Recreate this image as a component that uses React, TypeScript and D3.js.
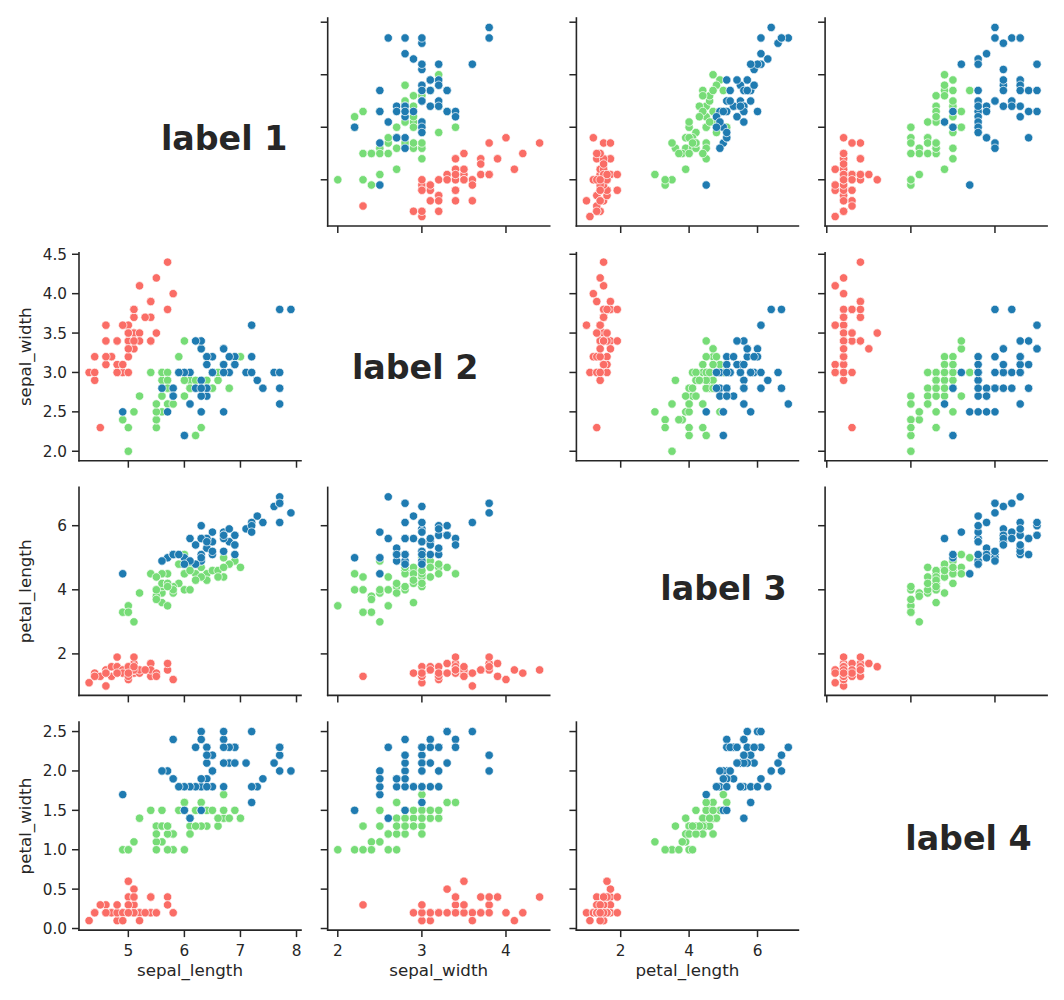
import React from "react";
import * as d3 from "d3";

const VARIABLES = ["sepal_length", "sepal_width", "petal_length", "petal_width"];
const SPECIES = ["setosa", "versicolor", "virginica"];
const SPECIES_COUNTS = [50, 50, 50];
const COLORS = ["#fa6d66", "#77dc77", "#1f7bb1"];

const sepalLength = [
  5.1, 4.9, 4.7, 4.6, 5.0, 5.4, 4.6, 5.0, 4.4, 4.9, 5.4, 4.8, 4.8, 4.3, 5.8, 5.7, 5.4, 5.1, 5.7, 5.1,
  5.4, 5.1, 4.6, 5.1, 4.8, 5.0, 5.0, 5.2, 5.2, 4.7, 4.8, 5.4, 5.2, 5.5, 4.9, 5.0, 5.5, 4.9, 4.4, 5.1,
  5.0, 4.5, 4.4, 5.0, 5.1, 4.8, 5.1, 4.6, 5.3, 5.0,
  7.0, 6.4, 6.9, 5.5, 6.5, 5.7, 6.3, 4.9, 6.6, 5.2, 5.0, 5.9, 6.0, 6.1, 5.6, 6.7, 5.6, 5.8, 6.2, 5.6,
  5.9, 6.1, 6.3, 6.1, 6.4, 6.6, 6.8, 6.7, 6.0, 5.7, 5.5, 5.5, 5.8, 6.0, 5.4, 6.0, 6.7, 6.3, 5.6, 5.5,
  5.5, 6.1, 5.8, 5.0, 5.6, 5.7, 5.7, 6.2, 5.1, 5.7,
  6.3, 5.8, 7.1, 6.3, 6.5, 7.6, 4.9, 7.3, 6.7, 7.2, 6.5, 6.4, 6.8, 5.7, 5.8, 6.4, 6.5, 7.7, 7.7, 6.0,
  6.9, 5.6, 7.7, 6.3, 6.7, 7.2, 6.2, 6.1, 6.4, 7.2, 7.4, 7.9, 6.4, 6.3, 6.1, 7.7, 6.3, 6.4, 6.0, 6.9,
  6.7, 6.9, 5.8, 6.8, 6.7, 6.7, 6.3, 6.5, 6.2, 5.9,
];
const sepalWidth = [
  3.5, 3.0, 3.2, 3.1, 3.6, 3.9, 3.4, 3.4, 2.9, 3.1, 3.7, 3.4, 3.0, 3.0, 4.0, 4.4, 3.9, 3.5, 3.8, 3.8,
  3.4, 3.7, 3.6, 3.3, 3.4, 3.0, 3.4, 3.5, 3.4, 3.2, 3.1, 3.4, 4.1, 4.2, 3.1, 3.2, 3.5, 3.6, 3.0, 3.4,
  3.5, 2.3, 3.2, 3.5, 3.8, 3.0, 3.8, 3.2, 3.7, 3.3,
  3.2, 3.2, 3.1, 2.3, 2.8, 2.8, 3.3, 2.4, 2.9, 2.7, 2.0, 3.0, 2.2, 2.9, 2.9, 3.1, 3.0, 2.7, 2.2, 2.5,
  3.2, 2.8, 2.5, 2.8, 2.9, 3.0, 2.8, 3.0, 2.9, 2.6, 2.4, 2.4, 2.7, 2.7, 3.0, 3.4, 3.1, 2.3, 3.0, 2.5,
  2.6, 3.0, 2.6, 2.3, 2.7, 3.0, 2.9, 2.9, 2.5, 2.8,
  3.3, 2.7, 3.0, 2.9, 3.0, 3.0, 2.5, 2.9, 2.5, 3.6, 3.2, 2.7, 3.0, 2.5, 2.8, 3.2, 3.0, 3.8, 2.6, 2.2,
  3.2, 2.8, 2.8, 2.7, 3.3, 3.2, 2.8, 3.0, 2.8, 3.0, 2.8, 3.8, 2.8, 2.8, 2.6, 3.0, 3.4, 3.1, 3.0, 3.1,
  3.1, 3.1, 2.7, 3.2, 3.3, 3.0, 2.5, 3.0, 3.4, 3.0,
];
const petalLength = [
  1.4, 1.4, 1.3, 1.5, 1.4, 1.7, 1.4, 1.5, 1.4, 1.5, 1.5, 1.6, 1.4, 1.1, 1.2, 1.5, 1.3, 1.4, 1.7, 1.5,
  1.7, 1.5, 1.0, 1.7, 1.9, 1.6, 1.6, 1.5, 1.4, 1.6, 1.6, 1.5, 1.5, 1.4, 1.5, 1.2, 1.3, 1.4, 1.3, 1.5,
  1.3, 1.3, 1.3, 1.6, 1.9, 1.4, 1.6, 1.4, 1.5, 1.4,
  4.7, 4.5, 4.9, 4.0, 4.6, 4.5, 4.7, 3.3, 4.6, 3.9, 3.5, 4.2, 4.0, 4.7, 3.6, 4.4, 4.5, 4.1, 4.5, 3.9,
  4.8, 4.0, 4.9, 4.7, 4.3, 4.4, 4.8, 5.0, 4.5, 3.5, 3.8, 3.7, 3.9, 5.1, 4.5, 4.5, 4.7, 4.4, 4.1, 4.0,
  4.4, 4.6, 4.0, 3.3, 4.2, 4.2, 4.2, 4.3, 3.0, 4.1,
  6.0, 5.1, 5.9, 5.6, 5.8, 6.6, 4.5, 6.3, 5.8, 6.1, 5.1, 5.3, 5.5, 5.0, 5.1, 5.3, 5.5, 6.7, 6.9, 5.0,
  5.7, 4.9, 6.7, 4.9, 5.7, 6.0, 4.8, 4.9, 5.6, 5.8, 6.1, 6.4, 5.6, 5.1, 5.6, 6.1, 5.6, 5.5, 4.8, 5.4,
  5.6, 5.1, 5.1, 5.9, 5.7, 5.2, 5.0, 5.2, 5.4, 5.1,
];
const petalWidth = [
  0.2, 0.2, 0.2, 0.2, 0.2, 0.4, 0.3, 0.2, 0.2, 0.1, 0.2, 0.2, 0.1, 0.1, 0.2, 0.4, 0.4, 0.3, 0.3, 0.3,
  0.2, 0.4, 0.2, 0.5, 0.2, 0.2, 0.4, 0.2, 0.2, 0.2, 0.2, 0.4, 0.1, 0.2, 0.2, 0.2, 0.2, 0.1, 0.2, 0.2,
  0.3, 0.3, 0.2, 0.6, 0.4, 0.3, 0.2, 0.2, 0.2, 0.2,
  1.4, 1.5, 1.5, 1.3, 1.5, 1.3, 1.6, 1.0, 1.3, 1.4, 1.0, 1.5, 1.0, 1.4, 1.3, 1.4, 1.5, 1.0, 1.5, 1.1,
  1.8, 1.3, 1.5, 1.2, 1.3, 1.4, 1.4, 1.7, 1.5, 1.0, 1.1, 1.0, 1.2, 1.6, 1.5, 1.6, 1.5, 1.3, 1.3, 1.3,
  1.2, 1.4, 1.2, 1.0, 1.3, 1.2, 1.3, 1.3, 1.1, 1.3,
  2.5, 1.9, 2.1, 1.8, 2.2, 2.1, 1.7, 1.8, 1.8, 2.5, 2.0, 1.9, 2.1, 2.0, 2.4, 2.3, 1.8, 2.2, 2.3, 1.5,
  2.3, 2.0, 2.0, 1.8, 2.1, 1.8, 1.8, 1.8, 2.1, 1.6, 1.9, 2.0, 2.2, 1.5, 1.4, 2.3, 2.4, 1.8, 1.8, 2.1,
  2.4, 2.3, 1.9, 2.3, 2.5, 2.3, 1.9, 2.0, 2.3, 1.8,
];

const X_TICKS = [[5, 6, 7, 8], [2, 3, 4], [2, 4, 6], [0, 1, 2]];
const Y_TICKS = [
  [5, 6, 7, 8],
  [2.0, 2.5, 3.0, 3.5, 4.0, 4.5],
  [2, 4, 6],
  [0.0, 0.5, 1.0, 1.5, 2.0, 2.5],
];
const X_TICK_FORMAT = ["d", "d", "d", "d"];
const Y_TICK_FORMAT = ["d", ".1f", "d", ".1f"];
const DIAG_LABELS = ["label 1", "label 2", "label 3", "label 4"];
// label anchor as fraction of its diagonal cell (x from left, baseline from top)
const DIAG_LABEL_POS = [
  [0.369, 0.635],
  [0.109, 0.607],
  [0.378, 0.541],
  [0.361, 0.615],
];

const W = 1064;
const H = 1000;
const CELL_LEFT0 = 79;
const CELL_TOP0 = 18;
const CELL_W = 222;
const CELL_H = 208;
const STEP_X = 248.7;
const STEP_Y = 234.7;
const INK = "#262626";
const FONT = "'DejaVu Sans', sans-serif";
const TICK_LEN = 7;
const TICK_FS = 15.3;
const LABEL_FS = 16.7;

const DATA = [sepalLength, sepalWidth, petalLength, petalWidth];
const speciesIndex: number[] = SPECIES_COUNTS.flatMap((n, s) => Array(n).fill(s));

function paddedDomain(vals: number[]): [number, number] {
  const [lo, hi] = d3.extent(vals) as [number, number];
  const m = (hi - lo) * 0.05;
  return [lo - m, hi + m];
}

export default function App() {
  const n = VARIABLES.length;
  const lefts = d3.range(n).map((j) => CELL_LEFT0 + j * STEP_X);
  const tops = d3.range(n).map((i) => CELL_TOP0 + i * STEP_Y);
  const xScales = DATA.map((vals, j) =>
    d3.scaleLinear().domain(paddedDomain(vals)).range([lefts[j], lefts[j] + CELL_W])
  );
  const yScales = DATA.map((vals, i) =>
    d3.scaleLinear().domain(paddedDomain(vals)).range([tops[i] + CELL_H, tops[i]])
  );

  const cells: React.ReactNode[] = [];
  for (let i = 0; i < n; i++) {
    for (let j = 0; j < n; j++) {
      const x0 = lefts[j];
      const y0 = tops[i];
      const bottom = y0 + CELL_H;
      if (i === j) {
        const [fx, fy] = DIAG_LABEL_POS[i];
        cells.push(
          <text
            key={`d${i}`}
            x={x0 + fx * CELL_W}
            y={y0 + fy * CELL_H}
            fontFamily={FONT}
            fontSize={33.3}
            fontWeight="bold"
            fill={INK}
          >
            {DIAG_LABELS[i]}
          </text>
        );
        continue;
      }
      const xs = xScales[j];
      const ys = yScales[i];
      const showYLabels = j === 0;
      const showXLabels = i === n - 1;
      const yFmt = d3.format(Y_TICK_FORMAT[i]);
      const xFmt = d3.format(X_TICK_FORMAT[j]);
      cells.push(
        <g key={`c${i}-${j}`}>
          {speciesIndex.map((s, k) => (
            <circle
              key={k}
              cx={xs(DATA[j][k])}
              cy={ys(DATA[i][k])}
              r={4.2}
              fill={COLORS[s]}
              stroke="#ffffff"
              strokeWidth={0.7}
            />
          ))}
          <line x1={x0} x2={x0} y1={y0} y2={bottom} stroke={INK} strokeWidth={1.6} strokeLinecap="square" />
          <line x1={x0} x2={x0 + CELL_W} y1={bottom} y2={bottom} stroke={INK} strokeWidth={1.6} strokeLinecap="square" />
          {Y_TICKS[i].map((t) => (
            <g key={`yt${t}`}>
              <line x1={x0 - TICK_LEN} x2={x0} y1={ys(t)} y2={ys(t)} stroke={INK} strokeWidth={1.5} />
              {showYLabels && (
                <text
                  x={x0 - TICK_LEN - 5}
                  y={ys(t)}
                  dy="0.36em"
                  textAnchor="end"
                  fontFamily={FONT}
                  fontSize={TICK_FS}
                  fill={INK}
                >
                  {yFmt(t)}
                </text>
              )}
            </g>
          ))}
          {X_TICKS[j].map((t) => (
            <g key={`xt${t}`}>
              <line x1={xs(t)} x2={xs(t)} y1={bottom} y2={bottom + TICK_LEN} stroke={INK} strokeWidth={1.5} />
              {showXLabels && (
                <text
                  x={xs(t)}
                  y={bottom + 25.5}
                  textAnchor="middle"
                  fontFamily={FONT}
                  fontSize={TICK_FS}
                  fill={INK}
                >
                  {xFmt(t)}
                </text>
              )}
            </g>
          ))}
          {showYLabels && (
            <text
              transform={`translate(31,${y0 + CELL_H / 2}) rotate(-90)`}
              textAnchor="middle"
              fontFamily={FONT}
              fontSize={LABEL_FS}
              fill={INK}
            >
              {VARIABLES[i]}
            </text>
          )}
          {showXLabels && (
            <text
              x={x0 + CELL_W / 2}
              y={976}
              textAnchor="middle"
              fontFamily={FONT}
              fontSize={LABEL_FS}
              fill={INK}
            >
              {VARIABLES[j]}
            </text>
          )}
        </g>
      );
    }
  }

  return (
    <svg
      width={W}
      height={H}
      viewBox={`0 0 ${W} ${H}`}
      style={{ position: "absolute", left: 0, top: 0, background: "#ffffff" }}
    >
      <rect x={0} y={0} width={W} height={H} fill="#ffffff" />
      {cells}
    </svg>
  );
}
